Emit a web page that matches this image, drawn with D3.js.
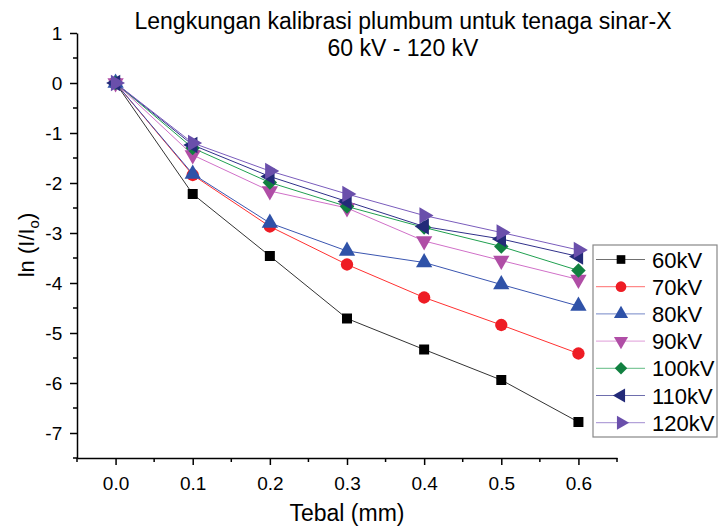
<!DOCTYPE html>
<html>
<head>
<meta charset="utf-8">
<script src="https://cdn.jsdelivr.net/npm/d3@7"></script>
<style>
  body { margin: 0; background: #fff; }
  svg { font-family: "Liberation Sans", Arial, sans-serif; }
</style>
</head>
<body>
<svg id="chart" width="719" height="528"></svg>
<script>
// data
var thickness = [0.0, 0.1, 0.2, 0.3, 0.4, 0.5, 0.6];
var kv60  = [0, -2.22, -3.46, -4.71, -5.33, -5.94, -6.78];
var kv70  = [0, -1.84, -2.87, -3.63, -4.29, -4.84, -5.41];
var kv80  = [0, -1.82, -2.80, -3.36, -3.59, -4.03, -4.46];
var kv90  = [0, -1.44, -2.16, -2.50, -3.16, -3.55, -3.93];
var kv100 = [0, -1.30, -1.99, -2.47, -2.89, -3.27, -3.75];
var kv110 = [0, -1.24, -1.87, -2.37, -2.87, -3.12, -3.47];
var kv120 = [0, -1.20, -1.76, -2.22, -2.65, -2.99, -3.34];
var names = ["60kV", "70kV", "80kV", "90kV", "100kV", "110kV", "120kV"];
var xTicks = [0.0, 0.1, 0.2, 0.3, 0.4, 0.5, 0.6];
var yTicks = [1, 0, -1, -2, -3, -4, -5, -6, -7];

var series = [
  {name: names[0], values: kv60,  line: "#333333", fill: "#000000", shape: "square"},
  {name: names[1], values: kv70,  line: "#ff3030", fill: "#ee1c24", shape: "circle"},
  {name: names[2], values: kv80,  line: "#3a55b0", fill: "#2f52a8", shape: "up"},
  {name: names[3], values: kv90,  line: "#d070c8", fill: "#b04ea6", shape: "down"},
  {name: names[4], values: kv100, line: "#20a050", fill: "#118040", shape: "diamond"},
  {name: names[5], values: kv110, line: "#30308a", fill: "#232a78", shape: "left"},
  {name: names[6], values: kv120, line: "#7a5cbc", fill: "#6a4fab", shape: "right"}
];

var svg = d3.select("#chart");

var x = d3.scaleLinear().domain([-0.05, 0.65]).range([77, 617]);
var y = d3.scaleLinear().domain([-7.5, 1]).range([458, 33]);

// axes (plain hyphen for negatives, like the original)
var xAxis = d3.axisBottom(x).tickValues(xTicks).tickFormat(d3.format(".1f")).tickSizeInner(7).tickSizeOuter(0);
var yAxis = d3.axisLeft(y).tickValues(yTicks)
  .tickFormat(function (d) { return String(d); })
  .tickSizeInner(7).tickSizeOuter(0);

var gx = svg.append("g").attr("transform", "translate(0,458)").call(xAxis);
var gy = svg.append("g").attr("transform", "translate(77,0)").call(yAxis);

// minor ticks
var xMinor = d3.range(-0.05, 0.66, 0.1);
svg.append("g").selectAll("line").data(xMinor).enter().append("line")
  .attr("x1", function (d) { return x(d); })
  .attr("x2", function (d) { return x(d); })
  .attr("y1", 458).attr("y2", 462)
  .attr("stroke", "#000").attr("stroke-width", 1.5);
var yMinor = d3.range(-7.5, 1, 1);
svg.append("g").selectAll("line").data(yMinor).enter().append("line")
  .attr("y1", function (d) { return y(d); })
  .attr("y2", function (d) { return y(d); })
  .attr("x1", 77).attr("x2", 73)
  .attr("stroke", "#000").attr("stroke-width", 1.5);

[gx, gy].forEach(function (g) {
  g.select(".domain").attr("stroke-width", 1.5);
  g.selectAll(".tick line").attr("stroke-width", 1.5);
  g.selectAll(".tick text").attr("font-size", "19px").attr("fill", "#000")
    .attr("font-family", "Liberation Sans, Arial, sans-serif");
});
gx.selectAll(".tick text").attr("dy", "1.15em");
gy.selectAll(".tick text").attr("dx", "-0.25em");

// marker shapes
var symbolFor = {
  square:  {type: d3.symbolSquare,   size: 100, rot: 0},
  circle:  {type: d3.symbolCircle,   size: 120, rot: 0},
  up:      {type: d3.symbolTriangle, size: 115, rot: 0},
  down:    {type: d3.symbolTriangle, size: 115, rot: 180},
  diamond: {type: d3.symbolSquare,   size: 105, rot: 45},
  left:    {type: d3.symbolTriangle, size: 115, rot: -90},
  right:   {type: d3.symbolTriangle, size: 115, rot: 90}
};

var line = d3.line()
  .x(function (d, i) { return x(thickness[i]); })
  .y(function (d) { return y(d); });

series.forEach(function (s) {
  svg.append("path")
    .attr("d", line(s.values))
    .attr("fill", "none")
    .attr("stroke", s.line)
    .attr("stroke-width", 1);
});

series.forEach(function (s) {
  var sym = symbolFor[s.shape];
  svg.append("g").selectAll("path").data(s.values).enter().append("path")
    .attr("d", d3.symbol().type(sym.type).size(sym.size))
    .attr("transform", function (d, i) {
      return "translate(" + x(thickness[i]) + "," + y(d) + ") rotate(" + sym.rot + ")";
    })
    .attr("fill", s.fill);
});

// title
svg.append("text").attr("x", 403).attr("y", 29).attr("text-anchor", "middle")
  .attr("font-size", "23px").text("Lengkungan kalibrasi plumbum untuk tenaga sinar-X");
svg.append("text").attr("x", 403).attr("y", 56).attr("text-anchor", "middle")
  .attr("font-size", "23px").text("60 kV - 120 kV");

// axis titles
svg.append("text").attr("x", 347).attr("y", 521).attr("text-anchor", "middle")
  .attr("font-size", "23px").text("Tebal (mm)");
var yl = svg.append("text")
  .attr("transform", "translate(34,245) rotate(-90)")
  .attr("text-anchor", "middle")
  .attr("font-size", "22px");
yl.append("tspan").text("ln (I/I");
yl.append("tspan").attr("font-size", "15px").attr("dy", 5).text("o");
yl.append("tspan").attr("dy", -5).text(")");

// legend
var leg = svg.append("g");
leg.append("rect").attr("x", 593).attr("y", 245).attr("width", 124).attr("height", 192)
  .attr("fill", "#fff").attr("stroke", "#888").attr("stroke-width", 1.2);
var items = leg.selectAll("g.item").data(series).enter().append("g")
  .attr("transform", function (d, i) { return "translate(0," + (259.5 + i * 27.2) + ")"; });
items.append("line").attr("x1", 596).attr("x2", 645).attr("y1", 0).attr("y2", 0)
  .attr("stroke", function (d) { return d.line; }).attr("stroke-width", 1).attr("stroke-opacity", 0.7);
items.append("path")
  .attr("d", function (d) { var sym = symbolFor[d.shape]; return d3.symbol().type(sym.type).size(sym.size * 0.75)(); })
  .attr("transform", function (d) { return "translate(621,0) rotate(" + symbolFor[d.shape].rot + ")"; })
  .attr("fill", function (d) { return d.fill; });
items.append("text").attr("x", 652).attr("y", 8).attr("font-size", "22px")
  .text(function (d) { return d.name; });
</script>
</body>
</html>
